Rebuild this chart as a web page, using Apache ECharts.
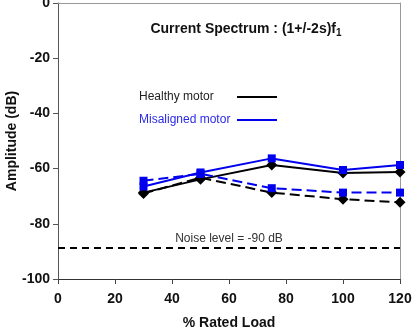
<!DOCTYPE html>
<html>
<head>
<meta charset="utf-8">
<script src="https://cdn.jsdelivr.net/npm/echarts@6/dist/echarts.min.js"></script>
<style>
  html, body { margin: 0; padding: 0; background: #fff; }
  #chart { width: 415px; height: 330px; }
</style>
</head>
<body>
<div id="chart"></div>
<script>
// % rated load
var loads = [30, 50, 75, 100, 120];
// amplitudes in dB
var healthySolid = [-68.7, -63.9, -58.7, -61.6, -61.2];
var healthyDashed = [-69.0, -63.3, -68.7, -71.1, -72.2];
var misalignedSolid = [-66.5, -61.4, -56.3, -60.5, -58.7];
var misalignedDashed = [-64.4, -61.9, -67.1, -68.7, -68.7];
var noiseLevel = -88.5;
var yTicks = [0, -20, -40, -60, -80, -100];

function pairs(ys) {
  return loads.map(function (x, i) { return [x, ys[i]]; });
}

var chart = echarts.init(document.getElementById("chart"));

var font = "Liberation Sans, Arial, sans-serif";

var option = {
  animation: false,
  textStyle: { fontFamily: font },
  title: {
    text: "Current Spectrum : (1+/-2s)f{s|1}",
    left: 241,
    top: 15,
    textAlign: "center",
    textStyle: {
      fontFamily: font,
      fontSize: 14,
      fontWeight: "bold",
      color: "#111",
      rich: {
        s: { fontSize: 10, fontWeight: "bold", verticalAlign: "bottom", padding: [8, 0, 0, 0], color: "#111" }
      }
    }
  },
  // y axis title
  graphic: [
    {
      type: "text",
      x: 12,
      y: 141,
      rotation: Math.PI / 2,
      style: {
        text: "Amplitude (dB)",
        font: "bold 14px " + font,
        fill: "#111",
        align: "center",
        verticalAlign: "middle"
      }
    }
  ],
  legend: {
    orient: "vertical",
    left: 134,
    top: 86,
    align: "right",
    itemWidth: 40,
    itemHeight: 2,
    itemGap: 11,
    data: [
      { name: "Healthy motor", icon: "rect" },
      { name: "Misaligned motor", icon: "rect" }
    ],
    formatter: function (name) {
      return (name === "Healthy motor" ? "{h|" : "{m|") + name + "}";
    },
    textStyle: {
      fontFamily: font,
      fontSize: 12,
      rich: {
        h: { width: 93, align: "left", color: "#222", fontSize: 12, fontFamily: font },
        m: { width: 93, align: "left", color: "#2a2ae6", fontSize: 12, fontFamily: font }
      }
    },
    selectedMode: false
  },
  grid: {
    left: 58,
    right: 15,
    top: 3,
    bottom: 51,
    outerBoundsMode: "none",
    show: false
  },
  xAxis: [
    {
      type: "value",
      min: 0,
      max: 120,
      interval: 20,
      name: "% Rated Load",
      nameLocation: "middle",
      nameGap: 37,
      nameTextStyle: { fontFamily: font, fontSize: 14, fontWeight: "bold", color: "#111" },
      axisLine: { onZero: false, lineStyle: { color: "#333", width: 1 } },
      axisTick: { show: true, length: 5, lineStyle: { color: "#444" } },
      axisLabel: { fontFamily: font, fontSize: 14, fontWeight: "bold", color: "#111", margin: 13 },
      splitLine: { show: false }
    },
    {
      // plain frame line along the top
      type: "value",
      position: "top",
      min: 0,
      max: 120,
      axisLine: { show: true, onZero: false, lineStyle: { color: "#999", width: 1 } },
      axisTick: { show: false },
      axisLabel: { show: false },
      splitLine: { show: false }
    }
  ],
  yAxis: [
    {
      type: "value",
      min: -100,
      max: 0,
      interval: 20,
      axisLine: { show: true, onZero: false, lineStyle: { color: "#555", width: 1 } },
      axisTick: { show: true, length: 5, lineStyle: { color: "#555" } },
      axisLabel: {
        fontFamily: font, fontSize: 14, fontWeight: "bold", color: "#111", margin: 8,
        formatter: function (v) { return yTicks.indexOf(v) >= 0 ? String(v) : ""; }
      },
      splitLine: { show: false }
    },
    {
      // plain frame line along the right
      type: "value",
      position: "right",
      min: -100,
      max: 0,
      axisLine: { show: true, onZero: false, lineStyle: { color: "#999", width: 1 } },
      axisTick: { show: false },
      axisLabel: { show: false },
      splitLine: { show: false }
    }
  ],
  series: [
    {
      name: "Healthy motor",
      type: "line",
      data: pairs(healthySolid),
      symbol: "diamond",
      symbolSize: 11,
      itemStyle: { color: "#000" },
      lineStyle: { color: "#000", width: 2 },
      z: 3
    },
    {
      name: "Healthy motor",
      type: "line",
      data: pairs(healthyDashed),
      symbol: "diamond",
      symbolSize: 11,
      itemStyle: { color: "#000" },
      lineStyle: { color: "#000", width: 2, type: [10, 5] },
      z: 3
    },
    {
      name: "Misaligned motor",
      type: "line",
      data: pairs(misalignedSolid),
      symbol: "rect",
      symbolSize: 8,
      itemStyle: { color: "#0000ee" },
      lineStyle: { color: "#0000ee", width: 2 },
      z: 4
    },
    {
      name: "Misaligned motor",
      type: "line",
      data: pairs(misalignedDashed),
      symbol: "rect",
      symbolSize: 8,
      itemStyle: { color: "#0000ee" },
      lineStyle: { color: "#0000ee", width: 2, type: [10, 5] },
      z: 4,
      markLine: {
        silent: true,
        symbol: "none",
        lineStyle: { color: "#000", width: 2, type: [7, 5] },
        label: {
          show: true,
          position: "middle",
          formatter: "Noise level = -90 dB",
          fontFamily: font,
          fontSize: 12,
          color: "#333",
          distance: 3
        },
        data: [{ yAxis: noiseLevel }]
      }
    }
  ]
};

chart.setOption(option);
</script>
</body>
</html>
